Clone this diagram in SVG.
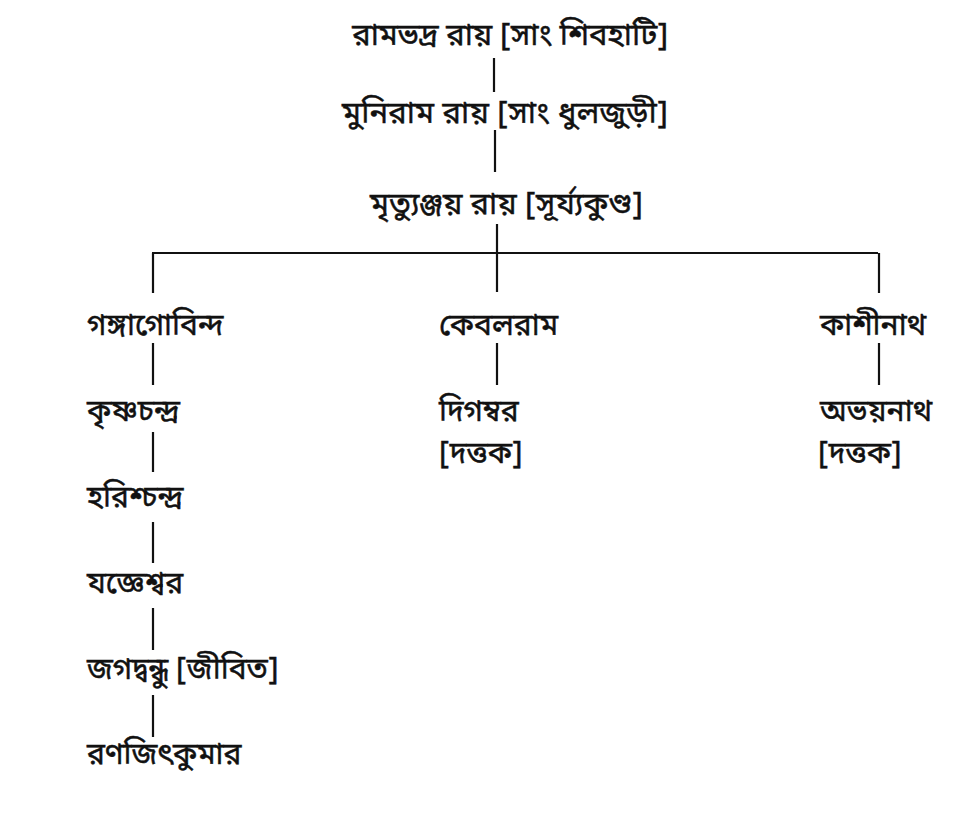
<svg xmlns="http://www.w3.org/2000/svg" width="975" height="816" viewBox="0 0 975 816">
<style>
text{font-family:"Noto Sans Bengali","Noto Serif Bengali","Lohit Bengali","Noto Sans",sans-serif;font-size:30px;fill:#111;stroke:#111;stroke-width:0.5;}
.t{font-size:31px;}
.c line{stroke:#111;stroke-width:2.2;}
</style>
<rect width="975" height="816" fill="#fff"/>
<g class="c" id="connectors">
<line x1="494" y1="58" x2="494" y2="92"/>
<line x1="495" y1="130" x2="495" y2="172"/>
<line x1="497" y1="224" x2="497" y2="292"/>
<line x1="152" y1="253" x2="878" y2="253"/>
<line x1="153" y1="253" x2="153" y2="293"/>
<line x1="879" y1="253" x2="879" y2="293"/>
<line x1="153" y1="343" x2="153" y2="385"/>
<line x1="153" y1="432" x2="153" y2="472"/>
<line x1="153" y1="522" x2="153" y2="563"/>
<line x1="153" y1="608" x2="153" y2="650"/>
<line x1="153" y1="695" x2="153" y2="737"/>
<line x1="497" y1="343" x2="497" y2="385"/>
<line x1="879" y1="343" x2="879" y2="385"/>
</g>
<g id="n1"><text class="t" x="352" y="45" textLength="316">রামভদ্র রায় [সাং শিবহাটি]</text></g>
<g id="n2"><text class="t" x="342" y="123" textLength="326">মুনিরাম রায় [সাং ধুলজুড়ী]</text></g>
<g id="n3"><text class="t" x="370" y="214" textLength="273">মৃত্যুঞ্জয় রায় [সূর্য্যকুণ্ড]</text></g>
<g id="n4"><text x="87" y="335">গঙ্গাগোবিন্দ</text></g>
<g id="n5"><text x="87" y="421">কৃষ্ণচন্দ্র</text></g>
<g id="n6"><text x="87" y="507">হরিশ্চন্দ্র</text></g>
<g id="n7"><text x="87" y="593">যজ্ঞেশ্বর</text></g>
<g id="n8"><text x="87" y="679">জগদ্বন্ধু [জীবিত]</text></g>
<g id="n9"><text x="87" y="764">রণজিৎকুমার</text></g>
<g id="n10"><text x="439" y="335">কেবলরাম</text></g>
<g id="n11"><text x="439" y="421">দিগম্বর</text><text x="439" y="463">[দত্তক]</text></g>
<g id="n12"><text x="820" y="335">কাশীনাথ</text></g>
<g id="n13"><text x="820" y="421">অভয়নাথ</text><text x="818" y="463">[দত্তক]</text></g>
</svg>
